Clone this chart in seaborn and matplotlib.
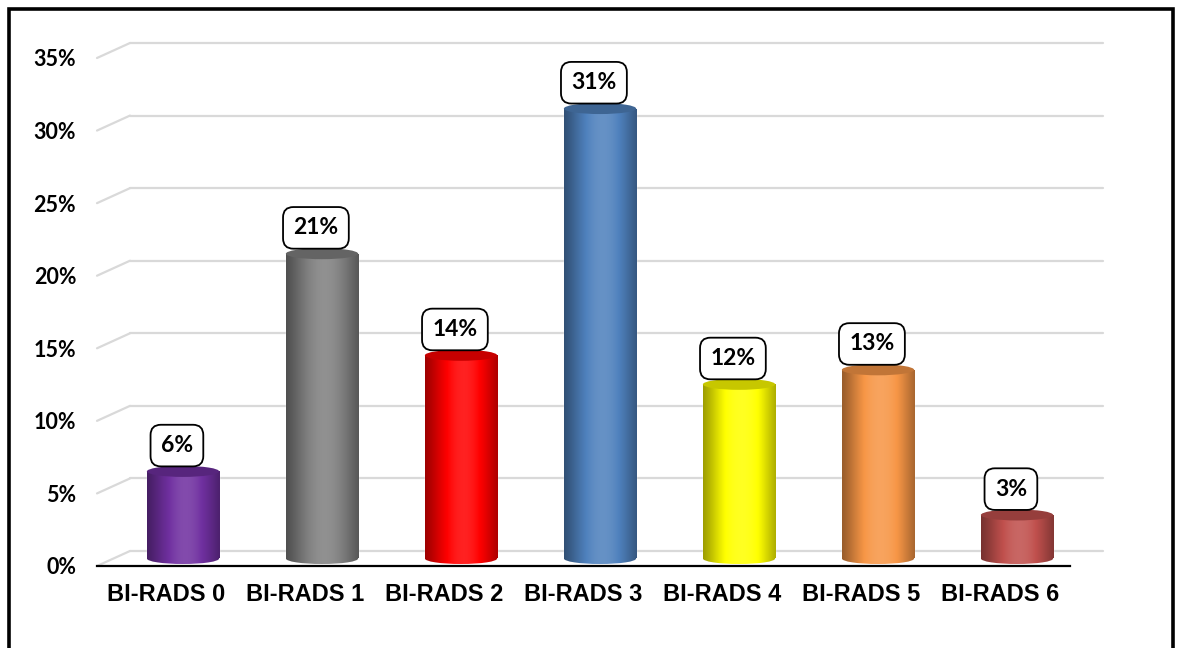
import numpy as np
import matplotlib
matplotlib.use('Agg')
import matplotlib.pyplot as plt
import matplotlib.transforms as mtransforms
from matplotlib.patches import Ellipse, Rectangle
from matplotlib.colors import to_rgb
from matplotlib.ticker import PercentFormatter
import seaborn as sns

# Data
categories = ['BI-RADS 0', 'BI-RADS 1', 'BI-RADS 2', 'BI-RADS 3',
              'BI-RADS 4', 'BI-RADS 5', 'BI-RADS 6']
percentages = [6, 21, 14, 31, 12, 13, 3]
bar_colors = ['#7030A0', '#808080', '#FF0000', '#4F81BD',
              '#FFFF00', '#F79646', '#C0504D']
y_ticks = [0, 5, 10, 15, 20, 25, 30, 35]

sns.set_style('white')
plt.rcParams['font.family'] = ['Liberation Sans', 'DejaVu Sans']

fig = plt.figure(figsize=(11.81, 6.48), dpi=100)
ax = fig.add_axes([97 / 1181, 82 / 648, 973 / 1181, 508 / 648])

sns.barplot(x=categories, y=percentages, hue=categories, palette=bar_colors,
            legend=False, width=0.52, saturation=1, ax=ax, zorder=3)

ax.set_xlim(-0.5, len(categories) - 0.5)
ax.set_ylim(0, 35)
ax.set_yticks(y_ticks)
ax.yaxis.set_major_formatter(PercentFormatter(decimals=0))
ax.set_xlabel('')
ax.set_ylabel('')
for side in ['top', 'right', 'left']:
    ax.spines[side].set_visible(False)
ax.spines['bottom'].set_color('black')
ax.spines['bottom'].set_linewidth(1.6)
ax.spines['bottom'].set_zorder(2)
ax.tick_params(axis='both', length=0)
ax.tick_params(axis='y', pad=15)
ax.tick_params(axis='x', pad=12)
for lbl in ax.get_yticklabels():
    lbl.set_fontfamily('Lato')
    lbl.set_fontweight('bold')
    lbl.set_fontstyle('normal')
    lbl.set_fontsize(15.5)
    lbl.set_color('black')
for lbl in ax.get_xticklabels():
    lbl.set_fontweight('bold')
    lbl.set_fontsize(17)
    lbl.set_color('black')

# 3D look: the back wall gridlines are shifted by the chart depth
depth_px = (33, 15)
xlo, xhi = ax.get_xlim()
dx = depth_px[0] * (xhi - xlo) / ax.bbox.width
dy = depth_px[1] * 35 / ax.bbox.height
grid_col = '#D9D9D9'
for v in y_ticks:
    ax.plot([xlo + dx, xhi + dx], [v + dy, v + dy], color=grid_col, lw=1.6,
            clip_on=False, zorder=0)
    ax.plot([xlo, xlo + dx], [v, v + dy], color=grid_col, lw=1.6,
            clip_on=False, zorder=0)

# cylinders sit in the middle of the depth
bar_trans = mtransforms.offset_copy(ax.transData, fig=fig, x=depth_px[0] / 2,
                                    y=depth_px[1] / 2, units='dots')
ell_h = 11 * 35 / ax.bbox.height


def shade(col, k):
    c = np.array(to_rgb(col))
    if k <= 1:
        return c * k
    return c + (1 - c) * (k - 1)


t = np.linspace(0, 1, 80)
profile = 0.58 + 0.55 * np.sin(np.pi * np.clip(t * 0.85 + 0.05, 0, 1)) ** 1.4

for patch, col in zip(ax.patches, bar_colors):
    x0, w, h = patch.get_x(), patch.get_width(), patch.get_height()
    patch.set_transform(bar_trans)
    img = np.array([[shade(col, k) for k in profile]])
    im = ax.imshow(img, extent=[x0, x0 + w, 0, h], transform=bar_trans,
                   aspect='auto', interpolation='bilinear', zorder=3.1)
    im.set_clip_path(patch)
    bottom = Ellipse((x0 + w / 2, 0), w, ell_h, transform=bar_trans,
                     fc='none', ec='none', zorder=3)
    ax.add_patch(bottom)
    im2 = ax.imshow(img, extent=[x0, x0 + w, -ell_h / 2, 0],
                    transform=bar_trans, aspect='auto',
                    interpolation='bilinear', zorder=3.1)
    im2.set_clip_path(bottom)
    ax.add_patch(Ellipse((x0 + w / 2, h), w, ell_h, transform=bar_trans,
                         fc=shade(col, 0.78), ec='none', zorder=3.2,
                         clip_on=False))

ax.set_xlim(xlo, xhi)
ax.set_ylim(0, 35)

# value labels in rounded boxes
for i, v in enumerate(percentages):
    ax.annotate(f'{v}%', xy=(i, v), xytext=(7.5, 24), textcoords='offset points',
                ha='center', va='center', fontsize=16.5, fontweight='bold',
                fontstyle='normal', fontfamily='Lato', color='black',
                zorder=5, annotation_clip=False,
                bbox=dict(boxstyle='round,pad=0.45,rounding_size=0.45',
                          fc='white', ec='black', lw=1.3))

# outer frame
fig.add_artist(Rectangle((8.5 / 1181, -0.05), 1164 / 1181, 1.05 - 8.5 / 648,
                         transform=fig.transFigure, fill=False, ec='black',
                         lw=2.6, clip_on=False))

fig.savefig('out.png', dpi=100, facecolor='white')
